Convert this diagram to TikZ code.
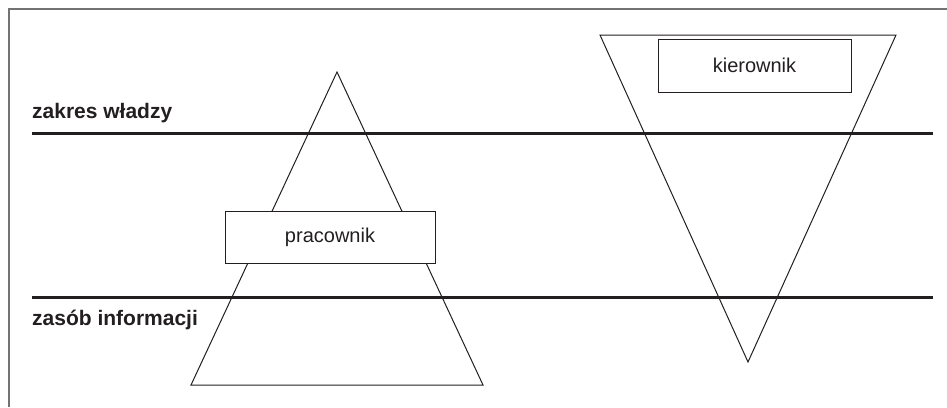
\documentclass[tikz,border=0pt]{standalone}
\usepackage{fontspec}
\setmainfont{Liberation Sans}
\usetikzlibrary{positioning}
\definecolor{ink}{HTML}{231F20}

\begin{document}
\begin{tikzpicture}[
    x=1pt, y=-1pt,
    frame/.style={draw=black!55, line width=2pt},
    level/.style={draw=ink, line width=3pt},
    tri/.style={draw=ink, line width=1pt},
    box/.style={draw=ink, fill=white, line width=1pt, text=ink, font=\fontsize{20}{24}\selectfont},
    lbl/.style={anchor=base west, inner sep=0pt, text=ink, font=\fontsize{21}{25}\selectfont\bfseries}
]
\useasboundingbox (0,0) rectangle (947,407);
\draw[frame] (9,407) -- (9,9) -- (947,9);

% pyramids
\draw[tri] (337,72) -- (483,385) -- (191,385) -- cycle;
\draw[tri] (600,35) -- (896,35) -- (748,362) -- cycle;

% levels
\coordinate (power west) at (32,133);
\coordinate (power east) at (933,133);
\coordinate (info west) at (32,297);
\coordinate (info east) at (933,297);
\draw[level] (power west) -- (power east);
\draw[level] (info west) -- (info east);
\node[lbl] (power) at (32,118) {zakres władzy};
\node[lbl] (info) at (32,325) {zasób informacji};

% roles
\node[box, minimum width=210pt, minimum height=52pt] (worker) at (330,237) {pracownik};
\node[box, minimum width=193pt, minimum height=53pt] (manager) at (754.5,65.5) {kierownik};
\end{tikzpicture}
\end{document}
